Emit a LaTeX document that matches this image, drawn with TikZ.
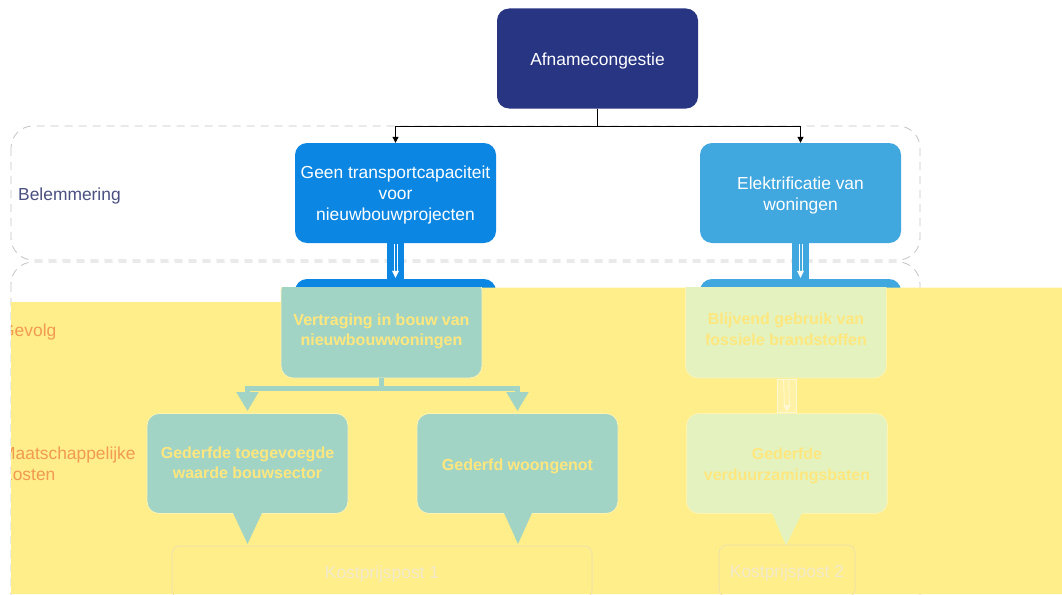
\documentclass[tikz,border=0pt]{standalone}
\usepackage{fontspec}
\setmainfont{Liberation Sans}
\usetikzlibrary{arrows.meta,calc}
\definecolor{navybx}{HTML}{283583}
\definecolor{blueA}{HTML}{0B87E3}
\definecolor{blueB}{HTML}{40A7DF}
\definecolor{ovl}{HTML}{FFEE8A}
\definecolor{tealbx}{HTML}{A2D4C6}
\definecolor{lgreen}{HTML}{E3F2BF}
\definecolor{ytext}{HTML}{FFE77E}
\definecolor{orlabel}{HTML}{F29A50}
\definecolor{grpline}{HTML}{C4C4C4}
\definecolor{kline}{HTML}{F1E2A6}
\definecolor{ktext}{HTML}{F2EACB}
\definecolor{glow}{HTML}{FFF3B0}
\definecolor{labblue}{HTML}{4A5080}
\definecolor{cbarfill}{HTML}{FFF2A6}
\definecolor{cbarline}{HTML}{FFF8D2}
\newcommand{\lowtxt}[2][2.5pt]{\raisebox{-#1}[\height][\depth]{\begin{tabular}{@{}c@{}}#2\end{tabular}}}
\begin{document}
\begin{tikzpicture}[x=1pt,y=-1pt,
  topbox/.style={rounded corners=12pt, minimum width=201pt, minimum height=100pt,
    align=center, inner sep=0pt, text=white, font=\fontsize{17.4}{21}\selectfont},
  obox/.style={rounded corners=12pt, minimum width=201pt, minimum height=100pt,
    align=center, inner sep=0pt, text=ytext, draw=glow, line width=0.8pt,
    font=\fontsize{16}{20.5}\selectfont\bfseries},
  kbox/.style={rounded corners=8pt, minimum height=52pt, draw=kline, line width=1pt,
    inner sep=0pt, text=ktext, font=\fontsize{17.4}{21}\selectfont},
  grp/.style={draw=grpline, line width=0.8pt, dash pattern=on 8pt off 6pt, rounded corners=22pt},
  lab/.style={anchor=west, inner sep=0pt, align=left, font=\fontsize{17.4}{21}\selectfont},
  conn/.style={draw=black, line width=1pt, -{Triangle[length=6pt,width=6pt]}},
  tconn/.style={draw=tealbx, line width=5pt, -{Triangle[width=21pt,length=19pt]}, shorten >=2pt}
]
\useasboundingbox (0,0) rectangle (1062,594);
\fill[white] (0,0) rectangle (1062,594);

% dashed groups
\draw[grp] (11,126) rectangle (920,260);
\draw[grp] (11,262) rectangle (920,640);
\node[lab, text=labblue] (belem) at (18,195.5) {Belemmering};

% top boxes
\node[topbox, fill=navybx] (afn) at (597.5,58.5) {\lowtxt{Afnamecongestie}};
\node[topbox, fill=blueA] (geen) at (395.5,193) {\lowtxt{Geen transportcapaciteit\\voor\\nieuwbouwprojecten}};
\node[topbox, fill=blueB] (elek) at (800.5,193) {\lowtxt{Elektrificatie van\\woningen}};
\node[topbox, fill=blueA] (vert) at (395.5,329) {};
\node[topbox, fill=blueB] (blij) at (800.5,329) {};

\draw[conn] (afn.south) -- ++(0,17.5) -| (geen.north);
\draw[conn] (afn.south) -- ++(0,17.5) -| (elek.north);

% thick blue connectors
\fill[blueA] ($(geen.south)+(-8.5,0)$) rectangle ($(vert.north)+(8.5,0)$);
\draw[white, line width=0.7pt] ($(geen.south)+(-1.6,1)$) -- ($(vert.north)+(-1.6,-7)$);
\draw[white, line width=0.7pt] ($(geen.south)+(1.6,1)$) -- ($(vert.north)+(1.6,-7)$);
\fill[white] ($(vert.north)+(-3.5,-8)$) -- ($(vert.north)+(3.5,-8)$) -- ($(vert.north)+(0,-1)$) -- cycle;
\fill[blueB] ($(elek.south)+(-8.5,0)$) rectangle ($(blij.north)+(8.5,0)$);
\draw[white, line width=0.7pt] ($(elek.south)+(-1.6,1)$) -- ($(blij.north)+(-1.6,-7)$);
\draw[white, line width=0.7pt] ($(elek.south)+(1.6,1)$) -- ($(blij.north)+(1.6,-7)$);
\fill[white] ($(blij.north)+(-3.5,-8)$) -- ($(blij.north)+(3.5,-8)$) -- ($(blij.north)+(0,-1)$) -- cycle;

% yellow overlay
\fill[ovl] (11,302) -- (281,302) -- (281,287.5) -- (1062,287.5) -- (1062,594) -- (11,594) -- cycle;
\begin{scope}
  \clip (11,302) -- (281,302) -- (281,287.5) -- (1062,287.5) -- (1062,594) -- (11,594) -- cycle;
  \node[lab, text=orlabel] (gev) at (1,332) {Gevolg};
  \node[lab, text=orlabel] (maat) at (1,463.5) {Maatschappelijke\\Kosten};
\end{scope}

\begin{scope}
  \clip (0,287.5) rectangle (1062,600);
  \node[obox, fill=tealbx] (vertO) at (381.5,328) {\lowtxt[3.5pt]{Vertraging in bouw van\\nieuwbouwwoningen}};
  \node[obox, fill=lgreen] (blijO) at (786,328) {\lowtxt[3pt]{Blijvend gebruik van\\fossiele brandstoffen}};
\end{scope}

\node[obox, fill=tealbx] (gtw) at (247.5,463.5) {\lowtxt[1pt]{Gederfde toegevoegde\\waarde bouwsector}};
\node[obox, fill=tealbx] (gw) at (517.5,463.5) {\lowtxt{Gederfd woongenot}};
\node[obox, fill=lgreen] (gvb) at (787,463.5) {\lowtxt{Gederfde\\verduurzamingsbaten}};

\draw[tconn] (vertO.south) -- ++(0,10) -| (gtw.north);
\draw[tconn] (vertO.south) -- ++(0,10) -| (gw.north);

% light connector
\filldraw[fill=cbarfill, draw=cbarline, line width=0.8pt] ($(blijO.south)+(-9,0.5)$) rectangle ($(gvb.north)+(9,-0.5)$);
\draw[cbarline, line width=0.8pt] ($(blijO.south)+(-2.5,1)$) -- ($(gvb.north)+(-2.5,-7)$);
\draw[cbarline, line width=0.8pt] ($(blijO.south)+(2.5,1)$) -- ($(gvb.north)+(2.5,-7)$);
\fill[cbarline] ($(gvb.north)+(-4,-8)$) -- ($(gvb.north)+(4,-8)$) -- ($(gvb.north)+(0,-1.5)$) -- cycle;

% callout pointers
\fill[tealbx] ($(gtw.south)+(-14.5,-1)$) -- ($(gtw.south)+(0,30)$) -- ($(gtw.south)+(14.5,-1)$) -- cycle;
\fill[tealbx] ($(gw.south)+(-13.5,-1)$) -- ($(gw.south)+(0.5,30)$) -- ($(gw.south)+(14.5,-1)$) -- cycle;
\fill[lgreen] ($(gvb.south)+(-15,-1)$) -- ($(gvb.south)+(-1,31.5)$) -- ($(gvb.south)+(15,-1)$) -- cycle;

% cost boxes
\node[kbox, minimum width=420pt] (k1) at (382,572) {\lowtxt[2pt]{Kostprijspost 1}};
\node[kbox, minimum width=136pt] (k2) at (787,571) {\lowtxt[2pt]{Kostprijspost 2}};
\end{tikzpicture}
\end{document}
